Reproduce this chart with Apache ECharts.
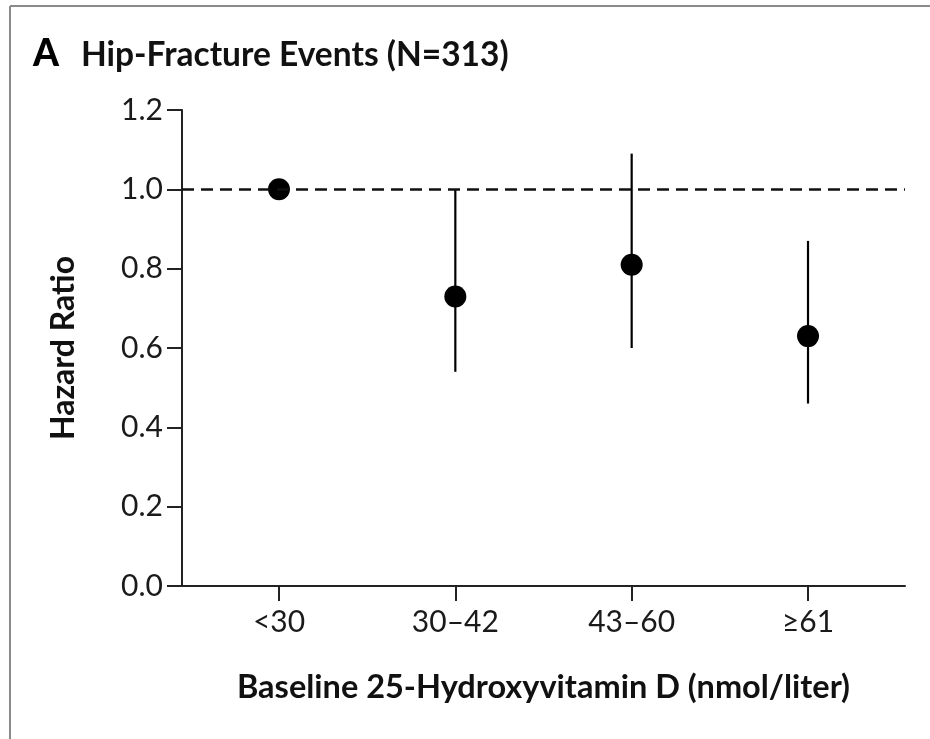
<!DOCTYPE html>
<html>
<head>
<meta charset="utf-8">
<script src="https://cdn.jsdelivr.net/npm/echarts@6/dist/echarts.min.js"></script>
<style>
html,body{margin:0;padding:0;background:#fff;}
#chart{width:930px;height:739px;}
</style>
</head>
<body>
<div id="chart"></div>
<script>
// Data
const categories = ['<30', '30\u201342', '43\u201360', '\u226561'];
const hazardRatio = [1.0, 0.73, 0.81, 0.63];
const ciLower = [null, 0.54, 0.60, 0.46];
const ciUpper = [null, 1.00, 1.09, 0.87];
const yTicks = [0.0, 0.2, 0.4, 0.6, 0.8, 1.0, 1.2];
const referenceLine = 1.0;

const FONT = 'Lato';
const chart = echarts.init(document.getElementById('chart'));

const pointData = categories.map((c, i) => [i, hazardRatio[i]]);
const ciData = categories.map((c, i) => [i, ciLower[i], ciUpper[i]]).filter(d => d[1] != null);

chart.setOption({
  animation: false,
  backgroundColor: '#fff',
  graphic: [
    { type: 'line', shape: { x1: 10, y1: 6, x2: 930, y2: 6 }, style: { stroke: '#8a8a8a', lineWidth: 2 } },
    { type: 'line', shape: { x1: 10, y1: 6, x2: 10, y2: 739 }, style: { stroke: '#8a8a8a', lineWidth: 2 } },
    {
      type: 'text', left: 33, top: 36,
      style: { text: 'A', fontFamily: FONT, fontWeight: 900, fontSize: 37, fill: '#000' }
    },
    {
      type: 'text', left: 81, top: 38,
      style: { text: 'Hip-Fracture Events (N=313)', fontFamily: FONT, fontWeight: 'bold', fontSize: 33.5, fill: '#111' }
    }
  ],
  grid: { left: 182, right: 25, top: 110, bottom: 153, containLabel: false },
  xAxis: {
    type: 'value',
    min: -0.55, max: 3.55,
    name: 'Baseline 25-Hydroxyvitamin D (nmol/liter)',
    nameLocation: 'middle',
    nameGap: 85,
    nameTextStyle: { fontFamily: FONT, fontWeight: 'bold', fontSize: 32.5, color: '#111' },
    axisLine: { show: true, onZero: false, lineStyle: { color: '#222', width: 2 } },
    axisTick: { show: true, length: 15, lineStyle: { color: '#222', width: 2 }, customValues: [0, 1, 2, 3] },
    axisLabel: {
      customValues: [0, 1, 2, 3],
      margin: 21,
      fontFamily: FONT, fontSize: 30, color: '#1a1a1a',
      formatter: v => categories[Math.round(v)]
    },
    splitLine: { show: false }
  },
  yAxis: {
    type: 'value',
    min: 0, max: 1.2, interval: 0.2,
    name: 'Hazard Ratio',
    nameLocation: 'middle',
    nameGap: 102,
    nameTextStyle: { fontFamily: FONT, fontWeight: 'bold', fontSize: 32, color: '#111' },
    axisLine: { show: true, onZero: false, lineStyle: { color: '#222', width: 2 } },
    axisTick: { show: true, length: 15, lineStyle: { color: '#222', width: 2 } },
    axisLabel: {
      margin: 19,
      fontFamily: FONT, fontSize: 30, color: '#1a1a1a',
      formatter: v => v.toFixed(1)
    },
    splitLine: { show: false }
  },
  series: [
    {
      type: 'custom',
      data: ciData,
      z: 2,
      renderItem: (params, api) => {
        const lo = api.coord([api.value(0), api.value(1)]);
        const hi = api.coord([api.value(0), api.value(2)]);
        return {
          type: 'line',
          shape: { x1: lo[0], y1: lo[1], x2: hi[0], y2: hi[1] },
          style: { stroke: '#000', lineWidth: 2.2 }
        };
      }
    },
    {
      type: 'scatter',
      data: pointData,
      symbol: 'circle',
      symbolSize: 22,
      itemStyle: { color: '#000', opacity: 1 },
      z: 3,
      markLine: {
        silent: true,
        symbol: 'none',
        label: { show: false },
        lineStyle: { color: '#111', width: 2.5, type: [12, 7] },
        data: [{ yAxis: referenceLine }]
      }
    }
  ]
});
</script>
</body>
</html>
